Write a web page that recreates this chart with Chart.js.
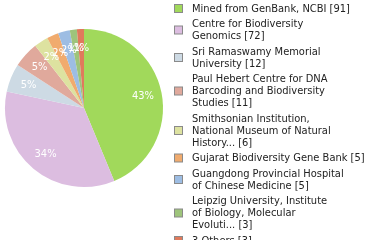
<!DOCTYPE html>
<html>
<head>
<meta charset="utf-8">
<script src="https://cdn.jsdelivr.net/npm/chart.js@4.4.1/dist/chart.umd.min.js"></script>
<style>
    html, body { margin: 0; padding: 0; background: #fff; }
    #wrap { width: 380px; height: 240px; position: relative; }
</style>
</head>
<body>
<div id="wrap"><canvas id="sourcesChart" width="380" height="240"></canvas></div>
<script>
// legend names, already broken into the lines shown in the picture
const sourceNames = [
    ['Mined from GenBank, NCBI'],
    ['Centre for Biodiversity', 'Genomics'],
    ['Sri Ramaswamy Memorial', 'University'],
    ['Paul Hebert Centre for DNA', 'Barcoding and Biodiversity', 'Studies'],
    ['Smithsonian Institution,', 'National Museum of Natural', 'History...'],
    ['Gujarat Biodiversity Gene Bank'],
    ['Guangdong Provincial Hospital', 'of Chinese Medicine'],
    ['Leipzig University, Institute', 'of Biology, Molecular', 'Evoluti...'],
    ['3 Others']
];
const sourceCounts = [91, 72, 12, 11, 6, 5, 5, 3, 3];
const sliceColors = ['#a1d95b', '#dcbde0', '#cddae4', '#e0a99c', '#dde2a0', '#f0ab6e', '#9dbde3', '#9ec47b', '#e07a5c'];

const fontFamily = '"DejaVu Sans Condensed", "DejaVu Sans", sans-serif';

const percentLabels = {
    id: 'percentLabels',
    afterDatasetsDraw(chart) {
        const ctx = chart.ctx;
        const values = chart.data.datasets[0].data;
        const total = values.reduce((a, b) => a + b, 0);
        const meta = chart.getDatasetMeta(0);
        ctx.save();
        ctx.fillStyle = '#fff';
        ctx.font = '11px ' + fontFamily;
        ctx.textAlign = 'center';
        ctx.textBaseline = 'middle';
        meta.data.forEach(function (arc, i) {
            const mid = (arc.startAngle + arc.endAngle) / 2;
            const r = arc.outerRadius * 0.76;
            const pct = Math.floor(values[i] / total * 100) + '%';
            ctx.fillText(pct, arc.x + Math.cos(mid) * r, arc.y + Math.sin(mid) * r);
        });
        ctx.restore();
    }
};

const sideLegend = {
    id: 'sideLegend',
    afterDraw(chart) {
        const ctx = chart.ctx;
        const lineHeight = 12;
        const gap = 3.5;
        let y = 9;
        ctx.save();
        ctx.font = '11px ' + fontFamily;
        ctx.textAlign = 'left';
        ctx.textBaseline = 'middle';
        chart.data.labels.forEach(function (lines, i) {
            const n = lines.length;
            const boxY = y + (n - 1) * lineHeight / 2;
            ctx.fillStyle = sliceColors[i];
            ctx.fillRect(174.5, boxY - 4.5, 8, 8);
            ctx.strokeStyle = '#8a8a8a';
            ctx.lineWidth = 1;
            ctx.strokeRect(174.5, boxY - 4.5, 8, 8);
            ctx.fillStyle = '#222';
            lines.forEach(function (line, j) {
                const text = j === n - 1 ? line + ' [' + chart.data.datasets[0].data[i] + ']' : line;
                ctx.fillText(text, 192, y + j * lineHeight);
            });
            y += n * lineHeight + gap;
        });
        ctx.restore();
    }
};

document.addEventListener('DOMContentLoaded', function () {
    const canvas = document.getElementById('sourcesChart');
    new Chart(canvas.getContext('2d'), {
        type: 'pie',
        data: {
            labels: sourceNames,
            datasets: [{
                data: sourceCounts,
                backgroundColor: sliceColors,
                borderWidth: 0
            }]
        },
        options: {
            responsive: false,
            animation: false,
            layout: {
                padding: { left: 5, right: 217, top: 29, bottom: 53 }
            },
            plugins: {
                legend: { display: false },
                tooltip: { enabled: false }
            }
        },
        plugins: [percentLabels, sideLegend]
    });
});
</script>
</body>
</html>
